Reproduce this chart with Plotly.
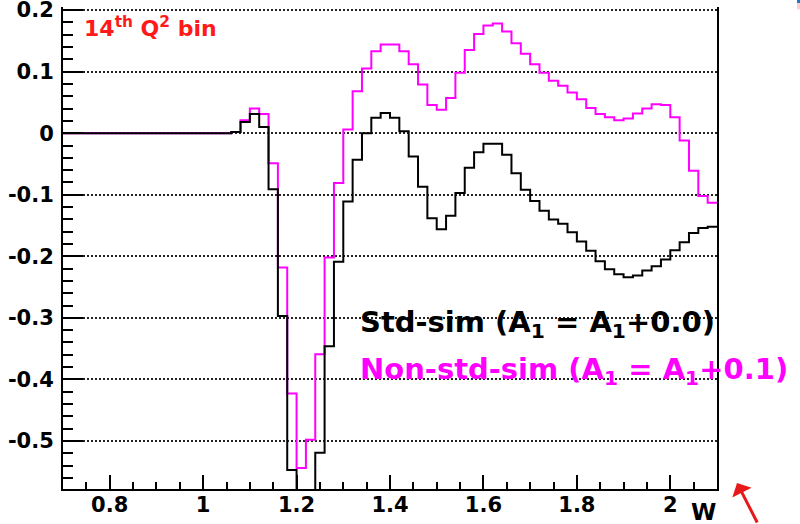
import numpy as np
import plotly.graph_objects as go

# W binning: 70 bins of width 0.02 from 0.70 to 2.10
w_edges = np.round(np.arange(0.70, 2.1001, 0.02), 2)

# Std-sim (A1 = A1 + 0.0)
std_sim = [
    0.0, 0.0, 0.0, 0.0, 0.0, 0.0, 0.0, 0.0, 0.0, 0.0,
    0.0, 0.0, 0.0, 0.0, 0.0, 0.0, 0.0, 0.0,
    0.002, 0.018, 0.031, 0.010, -0.091, -0.297, -0.547, -0.650, -0.620, -0.519,
    -0.346, -0.209, -0.111, -0.043, 0.000, 0.025, 0.033, 0.025, 0.003, -0.038,
    -0.087, -0.138, -0.156, -0.134, -0.097, -0.056, -0.031, -0.017, -0.017, -0.035,
    -0.065, -0.092, -0.110, -0.126, -0.140, -0.147, -0.161, -0.176, -0.191, -0.208,
    -0.221, -0.229, -0.234, -0.231, -0.223, -0.216, -0.205, -0.190, -0.177, -0.162,
    -0.154, -0.152,
]

# Non-std-sim (A1 = A1 + 0.1)
non_std_sim = [
    0.0, 0.0, 0.0, 0.0, 0.0, 0.0, 0.0, 0.0, 0.0, 0.0,
    0.0, 0.0, 0.0, 0.0, 0.0, 0.0, 0.0, 0.0,
    0.002, 0.021, 0.040, 0.031, -0.049, -0.218, -0.423, -0.544, -0.498, -0.359,
    -0.202, -0.081, 0.006, 0.068, 0.105, 0.133, 0.144, 0.144, 0.133, 0.112,
    0.079, 0.046, 0.038, 0.057, 0.098, 0.135, 0.161, 0.175, 0.178, 0.165,
    0.146, 0.129, 0.112, 0.098, 0.085, 0.077, 0.066, 0.055, 0.041, 0.031,
    0.026, 0.021, 0.024, 0.032, 0.040, 0.047, 0.046, 0.026, -0.012, -0.061,
    -0.102, -0.113,
]

x_tick_vals = [0.8, 1.0, 1.2, 1.4, 1.6, 1.8, 2.0]
x_tick_text = ["0.8", "1", "1.2", "1.4", "1.6", "1.8", "2"]
y_tick_vals = [0.2, 0.1, 0.0, -0.1, -0.2, -0.3, -0.4, -0.5]
y_tick_text = ["0.2", "0.1", "0", "-0.1", "-0.2", "-0.3", "-0.4", "-0.5"]

FONT = "DejaVu Sans"


def step_xy(edges, vals):
    """Histogram outline: each bin drawn flat across its width."""
    xs = list(edges)
    ys = list(vals) + [vals[-1]]
    return xs, ys


fig = go.Figure()

for vals, color in ((non_std_sim, "#ff00ff"), (std_sim, "#000000")):
    xs, ys = step_xy(w_edges, vals)
    fig.add_trace(go.Scatter(
        x=xs, y=ys, mode="lines", line=dict(shape="hv", color=color, width=2),
        hoverinfo="skip", showlegend=False,
    ))

axis_common = dict(
    showline=True, linecolor="black", linewidth=2,
    ticks="inside", tickcolor="black", tickwidth=2,
    tickfont=dict(family=FONT, size=21, color="black", weight="bold"),
    zeroline=False, tickmode="array", automargin=False,
    ticklabeloverflow="allow",
)

fig.update_xaxes(
    **axis_common,
    range=[0.70, 2.10], tickvals=x_tick_vals, ticktext=x_tick_text,
    ticklen=14, showgrid=False, ticklabelstandoff=-4,
    minor=dict(ticks="inside", tickmode="linear", tick0=0, dtick=0.05,
               ticklen=7, tickwidth=2, tickcolor="black", showgrid=False),
)
fig.update_yaxes(
    **axis_common,
    range=[-0.578, 0.205], tickvals=y_tick_vals, ticktext=y_tick_text,
    ticklen=20, mirror=True, ticklabelstandoff=3,
    showgrid=True, gridcolor="#222222", gridwidth=1.5, griddash="1.5px,2.5px",
    minor=dict(ticks="inside", tickmode="linear", tick0=0, dtick=0.02,
               ticklen=10, tickwidth=2, tickcolor="black", showgrid=False),
)

annotations = [
    dict(text="14<sup>th</sup> Q<sup>2</sup> bin", x=0.029, y=0.958,
         xanchor="left", yanchor="middle",
         font=dict(family=FONT, size=22, color="#ff1a1a", weight="bold")),
    dict(text="Std-sim (A<sub>1</sub> = A<sub>1</sub>+0.0)", x=0.451, y=0.342,
         xanchor="left", yanchor="middle",
         font=dict(family=FONT, size=29, color="black", weight="bold")),
    dict(text="Non-std-sim (A<sub>1</sub> = A<sub>1</sub>+0.1)", x=0.451, y=0.244,
         xanchor="left", yanchor="middle",
         font=dict(family=FONT, size=29, color="#ff00ff", weight="bold")),
    dict(text="W", x=0.980, y=-0.048, xanchor="center", yanchor="middle",
         font=dict(family=FONT, size=23, color="black", weight="bold")),
    dict(text="", x=1.0306, y=0.0125, showarrow=True, ax=21, ay=41,
         arrowcolor="#e8191b", arrowwidth=3, arrowhead=1, arrowsize=1.2),
]
for a in annotations:
    a.setdefault("showarrow", False)
    a.update(xref="paper", yref="paper")

fig.update_layout(
    width=800, height=524,
    margin=dict(l=63, r=83, t=7, b=35),
    paper_bgcolor="white", plot_bgcolor="white",
    annotations=annotations,
    shapes=[
        dict(type="rect", xref="paper", yref="paper", x0=1.1223, x1=1.13,
             y0=1.008, y1=1.015, fillcolor="#1f77d0", line=dict(width=0)),
        dict(type="rect", xref="paper", yref="paper", x0=1.1223, x1=1.13,
             y0=0.995, y1=1.008, fillcolor="#f8d0d0", line=dict(width=0)),
    ],
)

fig.write_html("out.html")
